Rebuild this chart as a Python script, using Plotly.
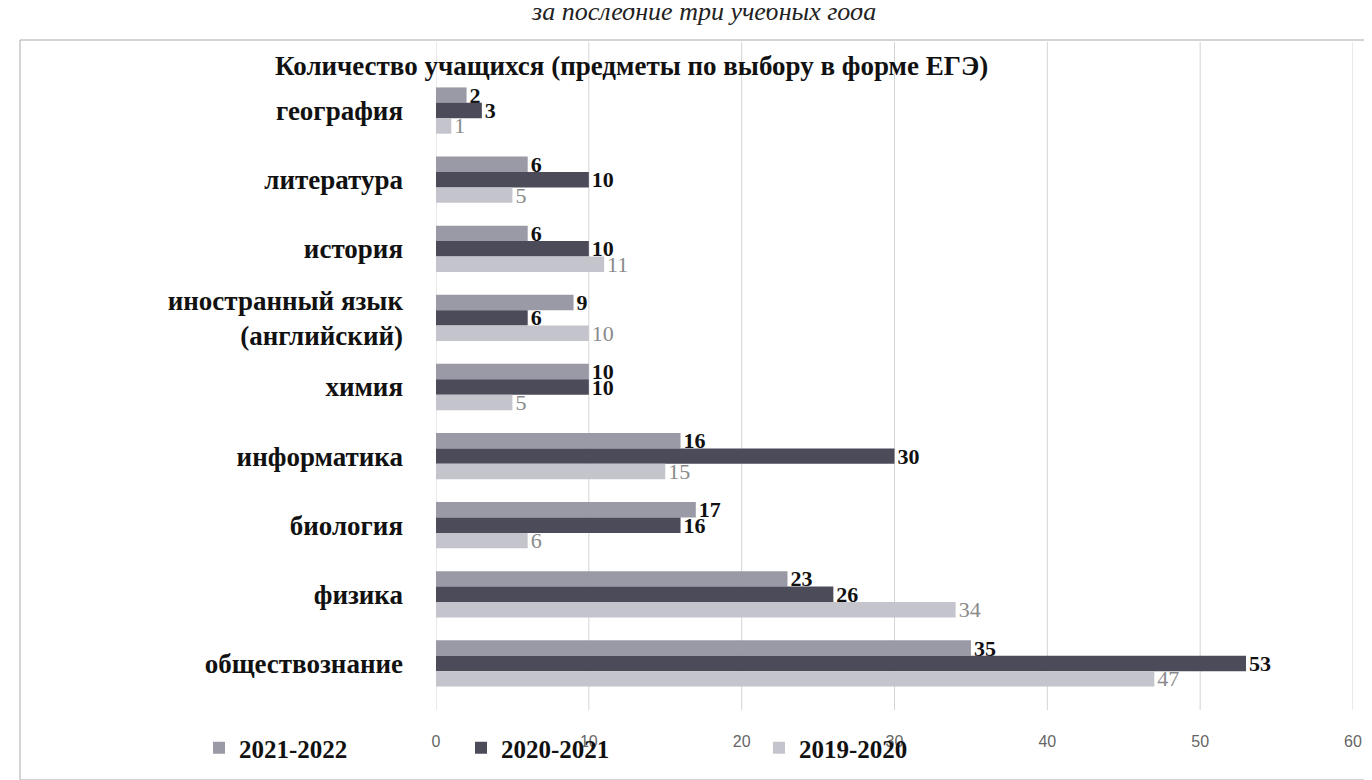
import plotly.graph_objects as go

categories = ["география", "литература", "история", "иностранный язык<br>(английский)",
              "химия", "информатика", "биология", "физика", "обществознание"]
series_names = ["2021-2022", "2020-2021", "2019-2020"]
v2021_2022 = [2, 6, 6, 9, 10, 16, 17, 23, 35]
v2020_2021 = [3, 10, 10, 6, 10, 30, 16, 26, 53]
v2019_2020 = [1, 5, 11, 10, 5, 15, 6, 34, 47]
x_ticks = [0, 10, 20, 30, 40, 50, 60]

colors = ["#9a9aa6", "#4b4b5a", "#c4c4cc"]
label_colors = ["#111111", "#111111", "#8a8a8a"]
label_weights = ["bold", "bold", "normal"]
legend_ids = ["legend", "legend2", "legend3"]
legend_px = [191, 453, 751]

L, R, T, B = 428, 27, 68, 90
W, H = 1372, 780
pw, ph = W - L - R, H - T - B

def px(x):
    return (x - L) / pw

def py(y):
    return (H - B - y) / ph

fig = go.Figure()
for name, vals, c, lc, lw, lg in zip(series_names, [v2021_2022, v2020_2021, v2019_2020],
                                     colors, label_colors, label_weights, legend_ids):
    fig.add_trace(go.Bar(
        y=categories, x=vals, name=name, orientation="h", legend=lg,
        marker=dict(color=c, line=dict(width=0)),
        text=vals, textposition="outside", cliponaxis=False, constraintext="none",
        textfont=dict(family="Liberation Serif", size=22, color=lc, weight=lw),
    ))

legend_style = dict(orientation="h", yanchor="middle", xanchor="left",
                    bgcolor="rgba(0,0,0,0)", itemwidth=30,
                    font=dict(family="Liberation Serif", size=25, color="#111111", weight="bold"))
legends = {lg: dict(x=px(x0), y=py(740), **legend_style) for lg, x0 in zip(legend_ids, legend_px)}

grid_shapes = [
    dict(type="line", xref="x", yref="paper", x0=t, x1=t, y0=py(702), y1=py(34),
         line=dict(color="#d4d4d4", width=1), layer="below")
    for t in x_ticks
]

fig.update_layout(
    width=W, height=H,
    margin=dict(l=L, r=R, t=T, b=B),
    paper_bgcolor="white", plot_bgcolor="white",
    barmode="group", bargap=0.33, bargroupgap=0,
    showlegend=True,
    xaxis=dict(range=[0, 60], tickvals=x_ticks, showgrid=False,
               zeroline=False, ticks="",
               tickfont=dict(family="Liberation Sans", size=16, color="#666666"),
               ticklabelstandoff=32, showline=False),
    yaxis=dict(autorange="reversed", ticks="", showgrid=False,
               tickfont=dict(family="Liberation Serif", size=27, color="#111111", weight="bold"),
               ticklabelstandoff=32),
    annotations=[
        dict(text="Количество учащихся (предметы по выбору в форме ЕГЭ)", xref="paper", yref="paper",
             x=px(623), y=py(58), xanchor="center", yanchor="middle", showarrow=False,
             font=dict(family="Liberation Serif", size=27, color="#111111", weight="bold")),
        dict(text="<i>за последние три учебных года</i>", xref="paper", yref="paper",
             x=px(695), y=py(3), xanchor="center", yanchor="middle", showarrow=False,
             font=dict(family="Liberation Serif", size=26, color="#222222")),
    ],
    shapes=[
        dict(type="rect", xref="paper", yref="paper", x0=px(12), x1=px(1368), y0=py(772), y1=py(32),
             line=dict(color="#aaaaaa", width=1), fillcolor="rgba(0,0,0,0)", layer="below"),
    ] + grid_shapes,
    **legends,
)

fig.write_html("out.html")
